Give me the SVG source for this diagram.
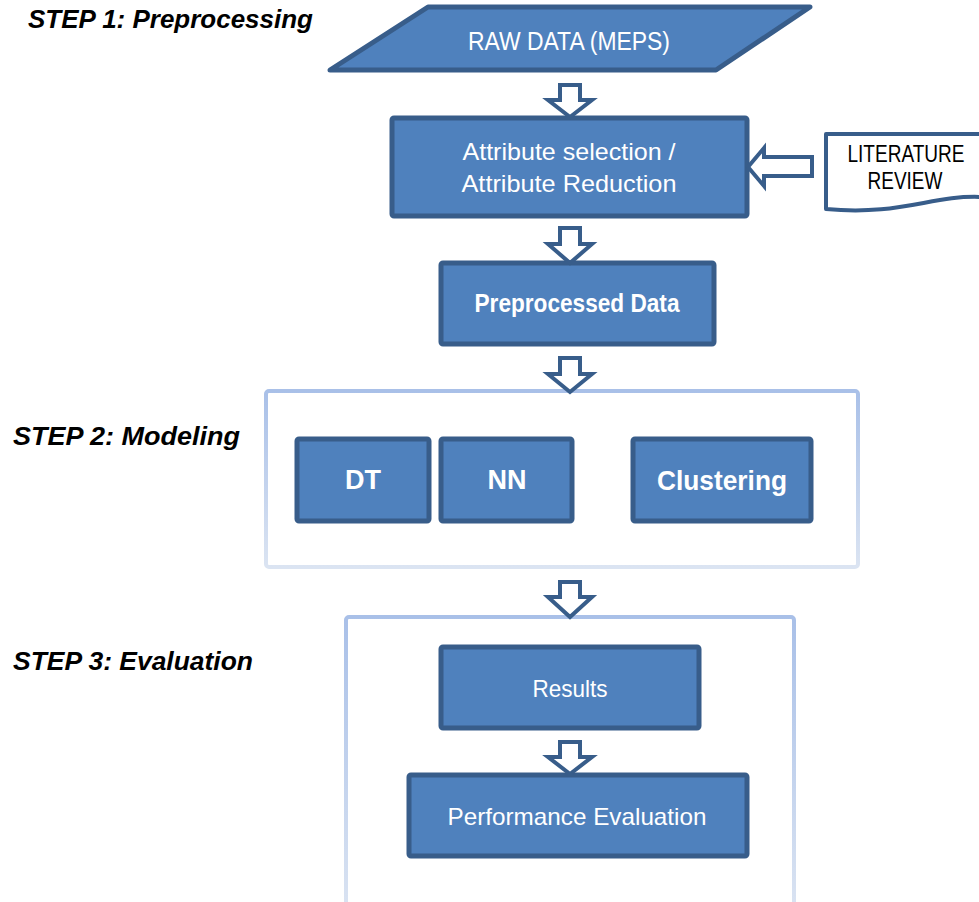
<svg xmlns="http://www.w3.org/2000/svg" width="979" height="902" viewBox="0 0 979 902">
  <defs>
    <linearGradient id="frameGrad" x1="0" y1="0" x2="0" y2="1">
      <stop offset="0" stop-color="#a9c0e8"/>
      <stop offset="1" stop-color="#dbe4f2"/>
    </linearGradient>
    <style>
      .box { fill: #4f81bd; stroke: #385d8a; stroke-width: 5; }
      .frame { fill: #ffffff; stroke: url(#frameGrad); stroke-width: 4; }
      .doc { fill: #ffffff; stroke: #385d8a; stroke-width: 4; stroke-linejoin: round; }
      .arrow { fill: #ffffff; stroke: #385d8a; stroke-width: 4; stroke-linejoin: miter; }
      .lbl { font-family: "Liberation Sans", Arial, sans-serif; fill: #ffffff; text-anchor: middle; }
      .bold { font-weight: bold; }
      .dark { fill: #000000; }
      .step { font-family: "Liberation Sans", Arial, sans-serif; font-weight: bold; font-style: italic; font-size: 25px; fill: #000000; }
    </style>
  </defs>

  <rect width="979" height="902" fill="#ffffff"/>

  <!-- stage captions -->
  <text class="step" x="28" y="28" textLength="285" lengthAdjust="spacingAndGlyphs">STEP 1: Preprocessing</text>
  <text class="step" x="13" y="445" textLength="227" lengthAdjust="spacingAndGlyphs">STEP 2: Modeling</text>
  <text class="step" x="13" y="670" textLength="240" lengthAdjust="spacingAndGlyphs">STEP 3: Evaluation</text>

  <!-- stage frames -->
  <g id="modeling-frame">
    <rect class="frame" x="266" y="391" width="592" height="176" rx="3"/>
  </g>
  <g id="evaluation-frame">
    <rect class="frame" x="346" y="617" width="448" height="300" rx="3"/>
  </g>

  <g id="raw-data">
    <polygon class="box" points="428,7 810,7 716,70 330,70" stroke-linejoin="round"/>
    <text class="lbl" x="569" y="50" font-size="25" textLength="202" lengthAdjust="spacingAndGlyphs">RAW DATA (MEPS)</text>
  </g>

  <g id="attribute-selection">
    <rect class="box" x="392" y="118" width="355" height="98" rx="2"/>
    <text class="lbl" x="569" y="160" font-size="24" textLength="213" lengthAdjust="spacingAndGlyphs">Attribute selection /</text>
    <text class="lbl" x="569" y="192" font-size="24" textLength="215" lengthAdjust="spacingAndGlyphs">Attribute Reduction</text>
  </g>

  <g id="literature-review">
    <path class="doc" d="M826,134 L981,134 L981,197 C932,195 900,216 826,209 Z"/>
    <text class="lbl dark" x="906" y="162" font-size="23" textLength="117" lengthAdjust="spacingAndGlyphs">LITERATURE</text>
    <text class="lbl dark" x="905" y="189" font-size="23" textLength="75" lengthAdjust="spacingAndGlyphs">REVIEW</text>
  </g>

  <g id="preprocessed-data">
    <rect class="box" x="441" y="263" width="273" height="81" rx="2"/>
    <text class="lbl bold" x="577" y="312" font-size="25" textLength="205" lengthAdjust="spacingAndGlyphs">Preprocessed Data</text>
  </g>

  <g id="dt">
    <rect class="box" x="297" y="439" width="132" height="82" rx="2"/>
    <text class="lbl bold" x="363" y="489" font-size="27">DT</text>
  </g>

  <g id="nn">
    <rect class="box" x="441" y="439" width="131" height="82" rx="2"/>
    <text class="lbl bold" x="507" y="489" font-size="27">NN</text>
  </g>

  <g id="clustering">
    <rect class="box" x="633" y="439" width="178" height="82" rx="2"/>
    <text class="lbl bold" x="722" y="490" font-size="27" textLength="130" lengthAdjust="spacingAndGlyphs">Clustering</text>
  </g>

  <g id="results">
    <rect class="box" x="441" y="647" width="258" height="81" rx="2"/>
    <text class="lbl" x="570" y="697" font-size="24" textLength="75" lengthAdjust="spacingAndGlyphs">Results</text>
  </g>

  <g id="performance-evaluation">
    <rect class="box" x="409" y="775" width="338" height="81" rx="2"/>
    <text class="lbl" x="577" y="825" font-size="24" textLength="259" lengthAdjust="spacingAndGlyphs">Performance Evaluation</text>
  </g>

  <!-- block arrows between stages -->
  <g id="connectors">
    <path class="arrow" d="M560,85 H580 V100 H592 L570,117 L548,100 H560 Z"/>
    <path class="arrow" d="M560,228 H580 V244 H592 L570,263 L548,244 H560 Z"/>
    <path class="arrow" d="M560,358 H580 V374 H592 L570,392 L548,374 H560 Z"/>
    <path class="arrow" d="M560,582 H580 V597 H592 L570,617 L548,597 H560 Z"/>
    <path class="arrow" d="M560,742 H580 V757 H592 L570,774 L548,757 H560 Z"/>
    <path class="arrow" d="M812,157 V176 H764 V186 L748,167 L764,148 V157 Z"/>
  </g>
</svg>
